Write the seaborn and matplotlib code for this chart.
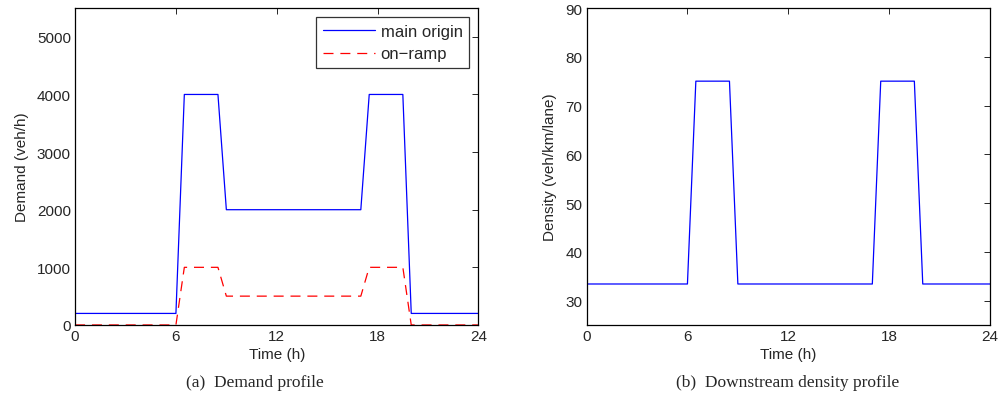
import matplotlib
matplotlib.use("Agg")
import matplotlib.pyplot as plt
import seaborn as sns
import pandas as pd

# Data
time_h = [0, 6, 6.5, 8.5, 9, 17, 17.5, 19.5, 20, 24]
main_origin = [200, 200, 4000, 4000, 2000, 2000, 4000, 4000, 200, 200]
on_ramp = [0, 0, 1000, 1000, 500, 500, 1000, 1000, 0, 0]
density = [33.4, 33.4, 75, 75, 33.4, 33.4, 75, 75, 33.4, 33.4]
x_ticks = [0, 6, 12, 18, 24]
demand_ticks = [0, 1000, 2000, 3000, 4000, 5000]
density_ticks = [30, 40, 50, 60, 70, 80, 90]

sns.set_style("white")
plt.rcParams['font.family'] = ['Liberation Sans', 'DejaVu Sans']
plt.rcParams['xtick.direction'] = 'in'
plt.rcParams['ytick.direction'] = 'in'

fig = plt.figure(figsize=(10.01, 4.10), dpi=100)
ax1 = fig.add_axes([0.075, 0.205, 0.403, 0.773])
ax2 = fig.add_axes([0.586, 0.205, 0.403, 0.773])

df_main = pd.DataFrame({"t": time_h, "v": main_origin})
df_ramp = pd.DataFrame({"t": time_h, "v": on_ramp})
df_dens = pd.DataFrame({"t": time_h, "v": density})

sns.lineplot(data=df_main, x="t", y="v", ax=ax1, color="#0000ff", lw=0.9, label="main origin")
sns.lineplot(data=df_ramp, x="t", y="v", ax=ax1, color="#ff0000", lw=0.9, label="on\u2212ramp", linestyle=(0, (8, 5.5)))
sns.lineplot(data=df_dens, x="t", y="v", ax=ax2, color="#0000ff", lw=0.9)

for ax in (ax1, ax2):
    ax.set_xlim(0, 24)
    ax.set_xticks(x_ticks)
    ax.set_xlabel("Time (h)", fontsize=11, labelpad=2.5)
    ax.tick_params(axis='both', labelsize=11, length=4, width=0.7, top=True, right=True, pad=3)
    for s in ax.spines.values():
        s.set_linewidth(0.9)
        s.set_color("black")

ax1.set_ylim(0, 5500)
ax1.set_yticks(demand_ticks)
ax1.set_ylabel("Demand (veh/h)", fontsize=11, labelpad=6)
ax2.set_ylim(25, 90)
ax2.set_yticks(density_ticks)
ax2.set_ylabel("Density (veh/km/lane)", fontsize=11, labelpad=6)

leg = ax1.legend(loc="upper right", fontsize=12, frameon=True, fancybox=False,
                 handlelength=3.1, borderaxespad=0.55, borderpad=0.4, labelspacing=0.45,
                 handletextpad=0.35)
leg.get_frame().set_edgecolor("black")
leg.get_frame().set_linewidth(0.9)

fig.text(0.255, 0.066, "(a)  Demand profile", ha="center", va="center",
         fontsize=12.5, family=["Liberation Serif", "DejaVu Serif"])
fig.text(0.787, 0.066, "(b)  Downstream density profile", ha="center", va="center",
         fontsize=12.5, family=["Liberation Serif", "DejaVu Serif"])

fig.savefig("out.png", dpi=100)
